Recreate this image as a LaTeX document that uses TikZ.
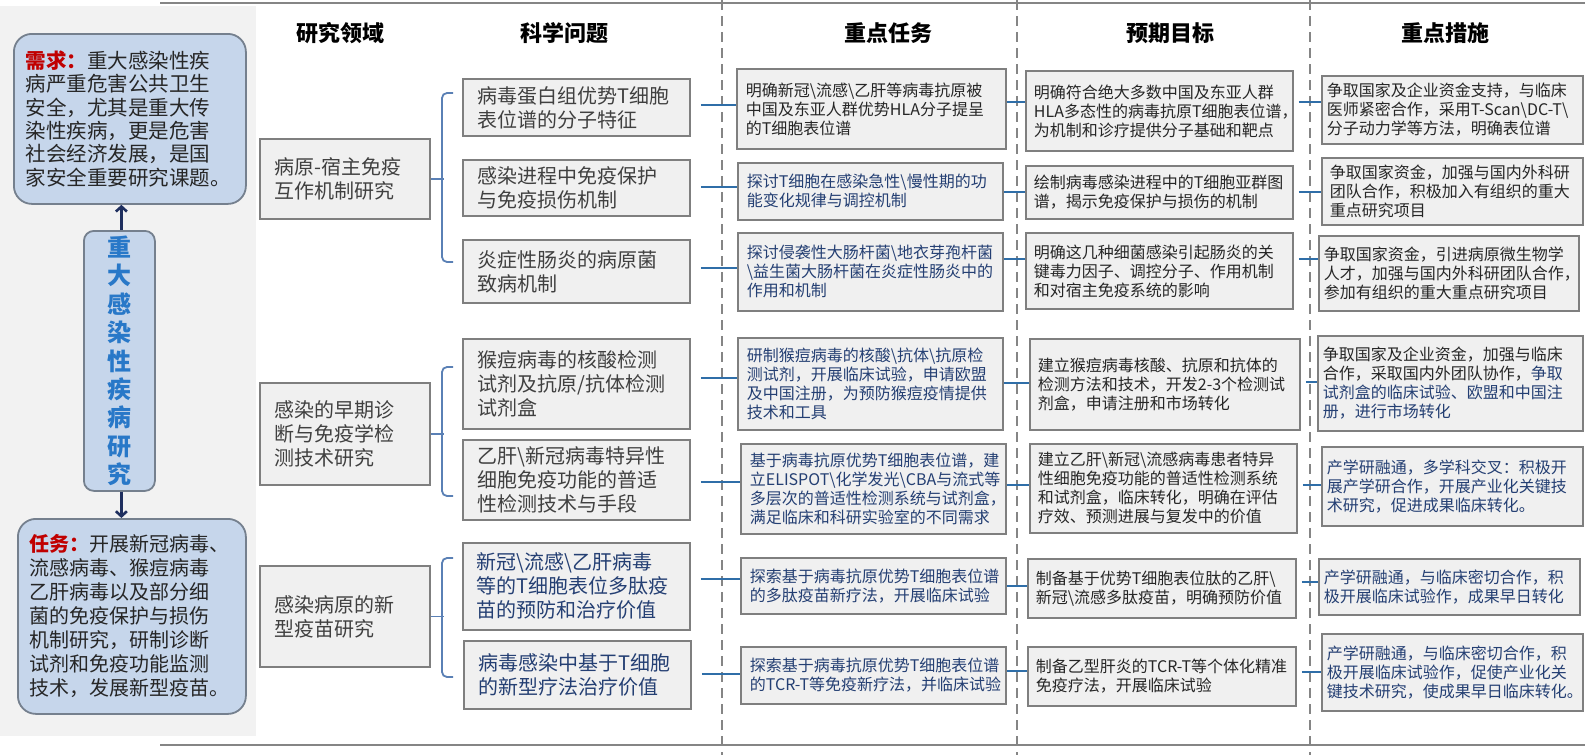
\documentclass[tikz,border=0pt]{standalone}
\usepackage{fontspec}
\setmainfont{Noto Sans CJK SC}
\usetikzlibrary{arrows.meta}
\definecolor{boxfill}{HTML}{F0F0F0}
\definecolor{boxline}{HTML}{7F7F7F}
\definecolor{panel}{HTML}{F2F2F2}
\definecolor{bluefill}{HTML}{C6D6EB}
\definecolor{blueline}{HTML}{75808E}
\definecolor{vblue}{HTML}{2878C8}
\definecolor{arrowcol}{HTML}{1F2F5F}
\definecolor{conncol}{HTML}{2F6EA8}
\definecolor{bracecol}{HTML}{5A80B5}
\definecolor{gtext}{HTML}{404040}
\definecolor{dtext}{HTML}{262626}
\definecolor{navytext}{HTML}{243F73}
\definecolor{redtext}{HTML}{C00000}
\definecolor{sepcol}{HTML}{858585}
\newcommand{\BS}{\textbackslash}
\newcommand{\TCRT}{\mbox{TCR-T}}
\begin{document}
\begin{tikzpicture}[x=1pt,y=-1pt,
  cell/.style={draw=boxline, fill=boxfill, line width=1.8pt, anchor=north west, align=left, inner ysep=2pt},
  big/.style={cell, font=\fontsize{20}{24}\selectfont, text=gtext, inner xsep=15pt},
  small/.style={cell, font=\fontsize{16}{19}\selectfont, text=dtext, inner xsep=9pt},
  meas/.style={cell, font=\fontsize{16}{19}\selectfont, text=dtext, inner xsep=5pt},
  bluebox/.style={draw=blueline, fill=bluefill, line width=1.8pt, rounded corners=18pt, anchor=north west, align=left, text=dtext},
  hdr/.style={font=\fontsize{22}{26}\selectfont\bfseries, text=black},
  bigarr/.style={draw=arrowcol, line width=2.6pt, -{Straight Barb[length=5pt,width=11pt]}},
  conn/.style={draw=conncol, line width=2pt},
  brace/.style={draw=bracecol, line width=1.8pt},
  sepline/.style={draw=sepcol, line width=2pt, dash pattern=on 10pt off 6pt},
  rule/.style={draw=sepcol, line width=2pt}
]
\useasboundingbox (0,0) rectangle (1585,755);
\fill[white] (0,0) rectangle (1585,755);
\fill[panel] (0,6) rectangle (256,736);
\draw[rule] (160,3) -- (1585,3);
\draw[rule] (160,745) -- (1585,745);
\draw[sepline] (722,0) -- (722,755);
\draw[sepline] (1017,0) -- (1017,755);
\draw[sepline] (1310,0) -- (1310,755);

% headers
\node[hdr] (h1) at (340,33) {研究领域};
\node[hdr] (h2) at (564,33) {科学问题};
\node[hdr] (h3) at (888,33) {重点任务};
\node[hdr] (h4) at (1170,33) {预期目标};
\node[hdr] (h5) at (1445,33) {重点措施};

% left panel
\node[bluebox, font=\fontsize{20.5}{23.4}\selectfont, text width=208pt, inner xsep=12pt, minimum height=170pt] (need) at (13,33)
 {{\color{redtext}\bfseries 需求：}重大感染性疾\\病严重危害公共卫生\\安全，尤其是重大传\\染性疾病，更是危害\\社会经济发展，是国\\家安全重要研究课题。};
\node[draw=blueline, fill=bluefill, line width=1.8pt, rounded corners=10pt, anchor=north west,
  minimum width=71pt, minimum height=260pt, inner ysep=2pt, align=center, text=vblue,
  font=\fontsize{24}{28.4}\selectfont\bfseries] (vert) at (83,230)
 {重\\大\\感\\染\\性\\疾\\病\\研\\究};
\node[bluebox, font=\fontsize{20}{24}\selectfont, text width=204pt, inner xsep=12pt, minimum height=195pt] (task) at (17,518)
 {{\color{redtext}\bfseries 任务：}开展新冠病毒、\\流感病毒、猴痘病毒\\乙肝病毒以及部分细\\菌的免疫保护与损伤\\机制研究，研制诊断\\试剂和免疫功能监测\\技术，发展新型疫苗。};
\draw[bigarr] ([xshift=2pt]vert.north) -- ([xshift=2pt]vert.north |- need.south);
\draw[bigarr] ([xshift=2pt]vert.south) -- ([xshift=2pt]vert.south |- task.north);

% research areas
\node[big, text width=140pt, minimum height=80pt, inner xsep=15pt] (a1) at (259,138) {病原-宿主免疫\\互作机制研究};
\node[big, text width=140pt, minimum height=102pt, inner xsep=15pt] (a2) at (259,382) {感染的早期诊\\断与免疫学检\\测技术研究};
\node[big, text width=140pt, minimum height=101pt, inner xsep=15pt] (a3) at (259,565) {感染病原的新\\型疫苗研究};

% scientific questions
\node[big, text width=197pt, minimum height=57pt] (q1) at (462,78) {病毒蛋白组优势T细胞\\表位谱的分子特征};
\node[big, text width=197pt, minimum height=56pt] (q2) at (462,159) {感染进程中免疫保护\\与免疫损伤机制};
\node[big, text width=197pt, minimum height=63pt] (q3) at (462,239) {炎症性肠炎的病原菌\\致病机制};
\node[big, text width=197pt, minimum height=90pt] (q4) at (462,338) {猴痘病毒的核酸检测\\试剂及抗原/抗体检测\\试剂盒};
\node[big, text width=197pt, minimum height=80pt] (q5) at (462,439) {乙肝\BS 新冠病毒特异性\\细胞免疫功能的普适\\性检测技术与手段};
\node[big, text width=199pt, minimum height=87pt, inner xsep=14pt, text=navytext] (q6) at (462,542) {新冠\BS 流感\BS 乙肝病毒\\等的T细胞表位多肽疫\\苗的预防和治疗价值};
\node[big, text width=197pt, minimum height=68pt, text=navytext] (q7) at (463,640) {病毒感染中基于T细胞\\的新型疗法治疗价值};

% braces
\draw[brace] (a1.east) -- ++(13,0);
\draw[brace, rounded corners=5pt] (453,93) -- (442,93) -- (442,262) -- (453,262);
\draw[brace] (a2.east) -- ++(13,0);
\draw[brace, rounded corners=5pt] (453,367) -- (442,367) -- (442,496) -- (453,496);
\draw[brace] (a3.east) -- ++(13,0);
\draw[brace, rounded corners=5pt] (453,558) -- (442,558) -- (442,677) -- (453,677);

% key tasks
\node[small, text width=251pt, minimum height=80pt] (t1) at (736,68) {明确新冠\BS 流感\BS 乙肝等病毒抗原被\\中国及东亚人群优势HLA分子提呈\\的T细胞表位谱};
\node[small, text width=247pt, minimum height=57pt, text=navytext] (t2) at (737,162) {探讨T细胞在感染急性\BS 慢性期的功\\能变化规律与调控机制};
\node[small, text width=247pt, minimum height=78pt, text=navytext] (t3) at (737,232) {探讨侵袭性大肠杆菌\BS 地衣芽孢杆菌\\\BS 益生菌大肠杆菌在炎症性肠炎中的\\作用和机制};
\node[small, text width=247pt, minimum height=92pt, text=navytext] (t4) at (737,337) {研制猴痘病毒的核酸\BS 抗体\BS 抗原检\\测试剂，开展临床试验，申请欧盟\\及中国注册，为预防猴痘疫情提供\\技术和工具};
\node[small, text width=247pt, minimum height=90pt, text=navytext] (t5) at (740,443) {基于病毒抗原优势T细胞表位谱，建\\立ELISPOT\BS 化学发光\BS CBA与流式等\\多层次的普适性检测系统与试剂盒，\\满足临床和科研实验室的不同需求};
\node[small, text width=247pt, minimum height=56pt, text=navytext] (t6) at (740,557) {探索基于病毒抗原优势T细胞表位谱\\的多肽疫苗新疗法，开展临床试验};
\node[small, text width=247pt, minimum height=57pt, text=navytext] (t7) at (740,646) {探索基于病毒抗原优势T细胞表位谱\\的\TCRT 等免疫新疗法，并临床试验};

% expected goals
\node[small, text width=251pt, minimum height=80pt, inner xsep=8pt] (g1) at (1025,70) {明确符合绝大多数中国及东亚人群\\HLA多态性的病毒抗原T细胞表位谱，\\为机制和诊疗提供分子基础和靶点};
\node[small, text width=251pt, minimum height=53pt, inner xsep=8pt] (g2) at (1025,165) {绘制病毒感染进程中的T细胞亚群图\\谱，揭示免疫保护与损伤的机制};
\node[small, text width=251pt, minimum height=76pt, inner xsep=8pt] (g3) at (1025,232) {明确这几种细菌感染引起肠炎的关\\键毒力因子、调控分子、作用机制\\和对宿主免疫系统的影响};
\node[small, text width=254pt, minimum height=91pt, inner xsep=8pt] (g4) at (1029,338) {建立猴痘病毒核酸、抗原和抗体的\\检测方法和技术，开发2-3个检测试\\剂盒，申请注册和市场转化};
\node[small, text width=251pt, minimum height=89pt, inner xsep=8pt] (g5) at (1029,443) {建立乙肝\BS 新冠\BS 流感病毒患者特异\\性细胞免疫功能的普适性检测系统\\和试剂盒，临床转化，明确在评估\\疗效、预测进展与复发中的价值};
\node[small, text width=252pt, minimum height=59pt, inner xsep=8pt] (g6) at (1027,558) {制备基于优势T细胞表位肽的乙肝\BS\\新冠\BS 流感多肽疫苗，明确预防价值};
\node[small, text width=252pt, minimum height=59pt, inner xsep=8pt] (g7) at (1027,646) {制备乙型肝炎的\TCRT 等个体化精准\\免疫疗法，开展临床试验};

% key measures
\node[meas, text width=251pt, minimum height=68pt] (m1) at (1321,75) {争取国家及企业资金支持，与临床\\医师紧密合作，采用T-Scan\BS DC-T\BS\\分子动力学等方法，明确表位谱};
\node[meas, text width=245pt, minimum height=67pt, inner xsep=8pt] (m2) at (1321,157) {争取国家资金，加强与国内外科研\\团队合作，积极加入有组织的重大\\重点研究项目};
\node[meas, text width=250pt, minimum height=75pt] (m3) at (1318,235) {争取国家资金，引进病原微生物学\\人才，加强与国内外科研团队合作，\\参加有组织的重大重点研究项目};
\node[meas, text width=255pt, minimum height=95pt] (m4) at (1317,335) {争取国家及企业资金，加强与临床\\合作，采取国内外团队协作，{\color{navytext}争取\\试剂盒的临床试验、欧盟和中国注\\册，进行市场转化}};
\node[meas, text width=251pt, minimum height=79pt, text=navytext] (m5) at (1321,446) {产学研融通，多学科交叉：积极开\\展产学研合作，开展产业化关键技\\术研究，促进成果临床转化。};
\node[meas, text width=251pt, minimum height=56pt, text=navytext] (m6) at (1318,558) {产学研融通，与临床密切合作，积\\极开展临床试验作，成果早日转化};
\node[meas, text width=251pt, minimum height=77pt, text=navytext] (m7) at (1321,633) {产学研融通，与临床密切合作，积\\极开展临床试验作，促使产业化关\\键技术研究，使成果早日临床转化。};

% connectors question -> task
\draw[conn] ([xshift=10pt]q1.east |- 0,105) -- (t1.west |- 0,105);
\draw[conn] ([xshift=10pt]q2.east |- 0,187) -- (t2.west |- 0,187);
\draw[conn] ([xshift=10pt]q3.east |- 0,268) -- (t3.west |- 0,268);
\draw[conn] ([xshift=10pt]q4.east |- 0,378) -- (t4.west |- 0,378);
\draw[conn] ([xshift=10pt]q5.east |- 0,482) -- (t5.west |- 0,482);
\draw[conn] ([xshift=10pt]q6.east |- 0,579) -- (t6.west |- 0,579);
\draw[conn] ([xshift=10pt]q7.east |- 0,674) -- (t7.west |- 0,674);
% task -> goal
\draw[conn] (t1.east |- 0,102) -- (g1.west |- 0,102);
\draw[conn] (t2.east |- 0,192) -- (g2.west |- 0,192);
\draw[conn] (t3.east |- 0,259) -- (g3.west |- 0,259);
\draw[conn] (t4.east |- 0,383) -- (g4.west |- 0,383);
\draw[conn] (t5.east |- 0,485) -- (g5.west |- 0,485);
\draw[conn] (t6.east |- 0,586) -- (g6.west |- 0,586);
\draw[conn] (t7.east |- 0,671) -- (g7.west |- 0,671);
% goal -> measure
\draw[conn] ([xshift=5pt]g1.east |- 0,102) -- (m1.west |- 0,102);
\draw[conn] ([xshift=5pt]g2.east |- 0,192) -- (m2.west |- 0,192);
\draw[conn] ([xshift=5pt]g3.east |- 0,259) -- (m3.west |- 0,259);
\draw[conn] ([xshift=5pt]g4.east |- 0,382) -- (m4.west |- 0,382);
\draw[conn] ([xshift=5pt]g5.east |- 0,485) -- (m5.west |- 0,485);
\draw[conn] ([xshift=5pt]g6.east |- 0,582) -- (m6.west |- 0,582);
\draw[conn] ([xshift=5pt]g7.east |- 0,672) -- (m7.west |- 0,672);
\end{tikzpicture}
\end{document}
